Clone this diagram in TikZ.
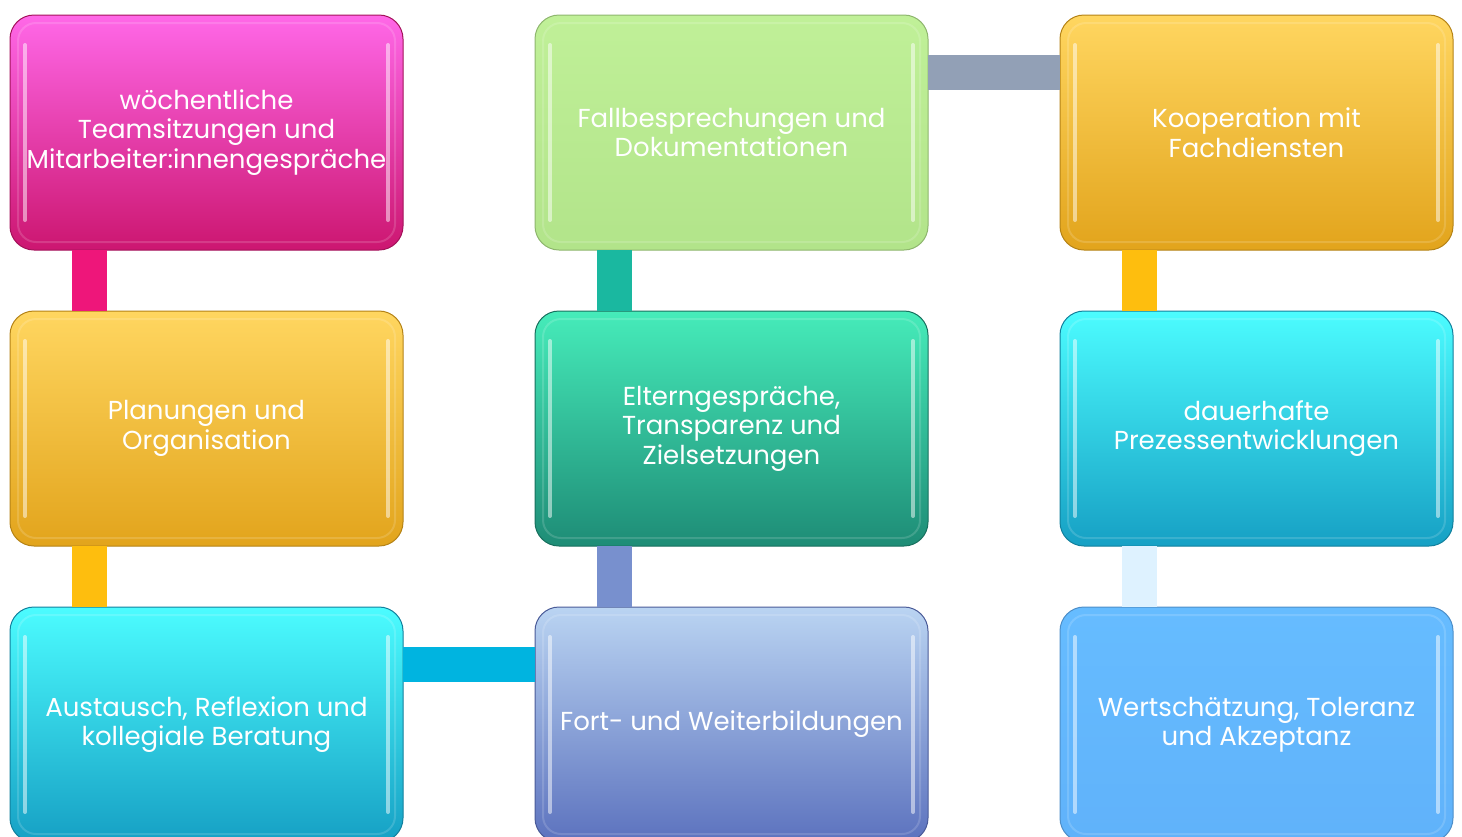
\documentclass[tikz,border=0pt]{standalone}
\usepackage{fontspec}
\setmainfont{Poppins}
\usetikzlibrary{positioning}

\definecolor{pinkTop}{RGB}{255,104,232}
\definecolor{pinkBot}{RGB}{204,22,112}
\definecolor{goldTop}{RGB}{255,214,96}
\definecolor{goldBot}{RGB}{226,164,28}
\definecolor{cyanTop}{RGB}{76,252,255}
\definecolor{cyanBot}{RGB}{22,160,196}
\definecolor{blueTop}{RGB}{186,212,242}
\definecolor{blueBot}{RGB}{92,114,190}
\definecolor{tealTop}{RGB}{70,236,186}
\definecolor{tealBot}{RGB}{30,140,118}
\definecolor{greenTop}{RGB}{192,240,152}
\definecolor{greenBot}{RGB}{178,228,138}
\definecolor{skyTop}{RGB}{102,188,255}
\definecolor{skyBot}{RGB}{96,178,250}

\definecolor{pinkBar}{RGB}{238,22,122}
\definecolor{goldBar}{RGB}{254,190,14}
\definecolor{cyanBar}{RGB}{0,180,224}
\definecolor{blueBar}{RGB}{120,144,206}
\definecolor{tealBar}{RGB}{26,184,160}
\definecolor{grayBar}{RGB}{146,160,182}
\definecolor{paleBar}{RGB}{222,242,255}

\tikzset{
  box/.style={rectangle, rounded corners=24pt, minimum width=393pt, minimum height=235pt,
    inner sep=0pt, outer sep=0pt, text=white, align=center, line width=1pt,
    font=\fontsize{26}{29.5}\selectfont,
    path picture={
      \draw[white, opacity=.15, line width=2pt, rounded corners=18pt]
        ([shift={(8pt,-8pt)}]path picture bounding box.north west) rectangle
        ([shift={(-8pt,8pt)}]path picture bounding box.south east);
      \draw[white, opacity=.5, line width=4pt, line cap=round]
        ([shift={(15pt,-30pt)}]path picture bounding box.north west) --
        ([shift={(15pt,30pt)}]path picture bounding box.south west);
      \draw[white, opacity=.5, line width=4pt, line cap=round]
        ([shift={(-15pt,-30pt)}]path picture bounding box.north east) --
        ([shift={(-15pt,30pt)}]path picture bounding box.south east);
    }},
  pinkbox/.style={box, top color=pinkTop, bottom color=pinkBot, draw=pinkBot!80!black},
  goldbox/.style={box, top color=goldTop, bottom color=goldBot, draw=goldBot!80!black},
  cyanbox/.style={box, top color=cyanTop, bottom color=cyanBot, draw=cyanBot!80!black},
  bluebox/.style={box, top color=blueTop, bottom color=blueBot, draw=blueBot!80!black},
  tealbox/.style={box, top color=tealTop, bottom color=tealBot, draw=tealBot!80!black},
  greenbox/.style={box, top color=greenTop, bottom color=greenBot, draw=greenBot!80!black},
  skybox/.style={box, top color=skyTop, bottom color=skyBot, draw=skyBot!80!black},
  bar/.style={line width=35pt},
}

\begin{document}
\begin{tikzpicture}[x=1pt,y=-1pt]
    \useasboundingbox (0,0) rectangle (1462,836);
    % column one, top to bottom
    \node [pinkbox] (team) at (206.5,132.5) {wöchentliche\\Teamsitzungen und\\Mitarbeiter:innengespräche};
    \node [goldbox, below=61pt of team] (plan) {Planungen und\\Organisation};
    \node [cyanbox, below=61pt of plan] (austausch) {Austausch, Reflexion und\\kollegiale Beratung};
    % column two, bottom to top
    \node [bluebox, right=132pt of austausch] (fort) {Fort- und Weiterbildungen};
    \node [tealbox, above=61pt of fort] (eltern) {Elterngespräche,\\Transparenz und\\Zielsetzungen};
    \node [greenbox, above=61pt of eltern] (fall) {Fallbesprechungen und\\Dokumentationen};
    % column three, top to bottom
    \node [goldbox, right=132pt of fall] (koop) {Kooperation mit\\Fachdiensten};
    \node [cyanbox, below=61pt of koop] (prozess) {dauerhafte\\Prezessentwicklungen};
    \node [skybox, below=61pt of prozess] (wert) {Wertschätzung, Toleranz\\und Akzeptanz};

    \draw [bar, pinkBar] ([xshift=79pt]team.south west) -- ([xshift=79pt]plan.north west);
    \draw [bar, goldBar] ([xshift=79pt]plan.south west) -- ([xshift=79pt]austausch.north west);
    \draw [bar, cyanBar] ([yshift=-57pt]austausch.north east) -- ([yshift=-57pt]fort.north west);
    \draw [bar, blueBar] ([xshift=79pt]fort.north west) -- ([xshift=79pt]eltern.south west);
    \draw [bar, tealBar] ([xshift=79pt]eltern.north west) -- ([xshift=79pt]fall.south west);
    \draw [bar, grayBar] ([yshift=-57pt]fall.north east) -- ([yshift=-57pt]koop.north west);
    \draw [bar, goldBar] ([xshift=79pt]koop.south west) -- ([xshift=79pt]prozess.north west);
    \draw [bar, paleBar] ([xshift=79pt]prozess.south west) -- ([xshift=79pt]wert.north west);
\end{tikzpicture}
\end{document}
